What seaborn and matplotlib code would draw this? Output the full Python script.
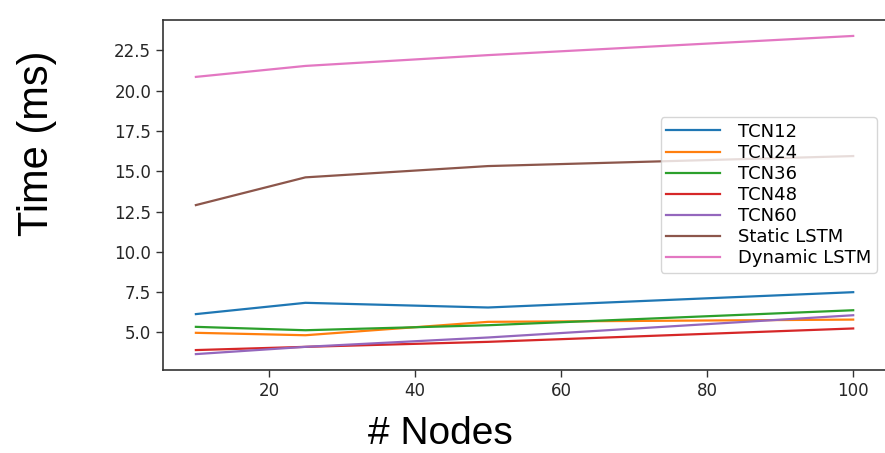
import pandas as pd
import matplotlib
matplotlib.use('Agg')
import matplotlib.pyplot as plt
import seaborn as sns

# number of nodes on the x axis
nodes = [10, 25, 50, 100]

# inference time (ms) per model
tcn12 = [6.14, 6.84, 6.55, 7.50]
tcn24 = [4.98, 4.83, 5.66, 5.80]
tcn36 = [5.35, 5.14, 5.45, 6.38]
tcn48 = [3.91, 4.11, 4.42, 5.25]
tcn60 = [3.66, 4.11, 4.69, 6.07]
static_lstm = [12.90, 14.62, 15.32, 15.94]
dynamic_lstm = [20.85, 21.53, 22.20, 23.39]

models = ['TCN12', 'TCN24', 'TCN36', 'TCN48', 'TCN60',
          'Static LSTM', 'Dynamic LSTM']
series = [tcn12, tcn24, tcn36, tcn48, tcn60, static_lstm, dynamic_lstm]


def main():
    rows = []
    for name, values in zip(models, series):
        for n, t in zip(nodes, values):
            rows.append({'Nodes': n, 'Time': t, 'Model': name})
    df = pd.DataFrame(rows)

    fig = plt.figure(figsize=(8.85, 4.53), dpi=100)
    ax = fig.add_axes([0.1842, 0.1832, 0.817, 0.7726])

    sns.lineplot(data=df, x='Nodes', y='Time', hue='Model',
                 hue_order=models, palette='tab10', errorbar=None,
                 linewidth=1.6, ax=ax)

    # spines and ticks
    for spine in ax.spines.values():
        spine.set_color('0.2')
        spine.set_linewidth(1.2)
    ax.tick_params(labelsize=12, length=5, width=1, colors='0.2',
                   labelcolor='0.15')

    # axis labels (big Arial-like text)
    ax.set_xlabel('# Nodes', fontsize=28, family='Liberation Sans')
    ax.set_ylabel('Time (ms)', fontsize=30, family='Liberation Sans')
    ax.xaxis.set_label_coords(0.384, -0.13)
    ax.yaxis.set_label_coords(-0.147, 0.647)

    handles, labels = ax.get_legend_handles_labels()
    ax.legend(handles, labels, loc='center right', fontsize=13,
              labelspacing=0.17, handlelength=3.0, handletextpad=1.0,
              borderpad=0.3)

    fig.savefig('out.png', dpi=100)


if __name__ == '__main__':
    main()
